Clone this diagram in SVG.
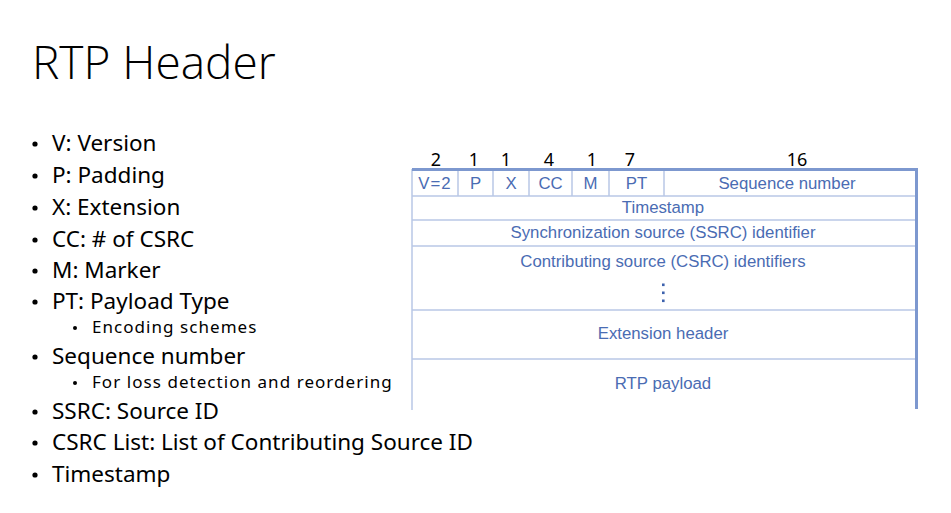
<svg xmlns="http://www.w3.org/2000/svg" width="951" height="513" viewBox="0 0 951 513">
  <style>
    .title { font-family: "Open Sans", "Noto Sans", "Liberation Sans", sans-serif; font-weight: 300; font-size: 46px; fill: #000; }
    .item { font-family: "Noto Sans", "Open Sans", "Liberation Sans", sans-serif; font-size: 22.5px; fill: #000; }
    .sub { font-family: "Noto Sans", "Open Sans", "Liberation Sans", sans-serif; font-size: 17px; fill: #000; letter-spacing: 1.05px; }
    .bits { font-family: "Noto Sans", "Liberation Sans", sans-serif; font-size: 18px; fill: #000; text-anchor: middle; }
    .field { font-family: "Liberation Sans", Arial, sans-serif; font-size: 16.8px; fill: #4a6cb3; text-anchor: middle; }
    .thin { stroke: #b9c7e6; stroke-width: 1.5; fill: none; }
    .thick { stroke: #7d98cf; stroke-width: 3; fill: none; }
    .dot { fill: #000; }
    .vdot { fill: #3d62ad; }
  </style>

  <!-- Slide title -->
  <text class="title" x="32" y="79">RTP Header</text>

  <!-- Bullet list of header fields -->
  <g id="field-list">
    <circle class="dot" cx="35" cy="144" r="2.6"/><text class="item" x="52" y="151">V: Version</text>
    <circle class="dot" cx="35" cy="176" r="2.6"/><text class="item" x="52" y="183">P: Padding</text>
    <circle class="dot" cx="35" cy="208" r="2.6"/><text class="item" x="52" y="215">X: Extension</text>
    <circle class="dot" cx="35" cy="240" r="2.6"/><text class="item" x="52" y="247">CC: # of CSRC</text>
    <circle class="dot" cx="35" cy="271" r="2.6"/><text class="item" x="52" y="278">M: Marker</text>
    <circle class="dot" cx="35" cy="302" r="2.6"/><text class="item" x="52" y="309">PT: Payload Type</text>
    <circle class="dot" cx="75" cy="328" r="2"/><text class="sub" x="92" y="333">Encoding schemes</text>
    <circle class="dot" cx="35" cy="357" r="2.6"/><text class="item" x="52" y="364">Sequence number</text>
    <circle class="dot" cx="75" cy="383" r="2"/><text class="sub" x="92" y="388">For loss detection and reordering</text>
    <circle class="dot" cx="35" cy="412" r="2.6"/><text class="item" x="52" y="419">SSRC: Source ID</text>
    <circle class="dot" cx="35" cy="443" r="2.6"/><text class="item" x="52" y="450">CSRC List: List of Contributing Source ID</text>
    <circle class="dot" cx="35" cy="475" r="2.6"/><text class="item" x="52" y="482">Timestamp</text>
  </g>

  <!-- Bit widths above the first header word -->
  <g id="bit-widths">
    <text class="bits" x="436" y="166">2</text>
    <text class="bits" x="474" y="166">1</text>
    <text class="bits" x="506" y="166">1</text>
    <text class="bits" x="549" y="166">4</text>
    <text class="bits" x="592" y="166">1</text>
    <text class="bits" x="630" y="166">7</text>
    <text class="bits" x="797" y="166">16</text>
  </g>

  <!-- Packet layout table -->
  <g id="header-table">
    <!-- inner rules -->
    <line class="thin" x1="412" y1="169" x2="412" y2="410"/>
    <line class="thin" x1="412" y1="196" x2="916" y2="196"/>
    <line class="thin" x1="412" y1="220" x2="916" y2="220"/>
    <line class="thin" x1="412" y1="246" x2="916" y2="246"/>
    <line class="thin" x1="412" y1="310" x2="916" y2="310"/>
    <line class="thin" x1="412" y1="359" x2="916" y2="359"/>
    <line class="thin" x1="458" y1="170" x2="458" y2="196"/>
    <line class="thin" x1="493" y1="170" x2="493" y2="196"/>
    <line class="thin" x1="529" y1="170" x2="529" y2="196"/>
    <line class="thin" x1="572" y1="170" x2="572" y2="196"/>
    <line class="thin" x1="609" y1="170" x2="609" y2="196"/>
    <line class="thin" x1="664" y1="170" x2="664" y2="196"/>
    <!-- heavy top and right edges -->
    <path class="thick" d="M412 169.5 H916.5 V409"/>
  </g>

  <g id="row-fixed">
    <text class="field" x="435" y="189" letter-spacing="1">V=2</text>
    <text class="field" x="475.5" y="189">P</text>
    <text class="field" x="511" y="189">X</text>
    <text class="field" x="550.5" y="189">CC</text>
    <text class="field" x="590.5" y="189">M</text>
    <text class="field" x="636.5" y="189">PT</text>
    <text class="field" x="787" y="189">Sequence number</text>
  </g>
  <g id="row-timestamp"><text class="field" x="663" y="212.5">Timestamp</text></g>
  <g id="row-ssrc"><text class="field" x="663" y="238">Synchronization source (SSRC) identifier</text></g>
  <g id="row-csrc">
    <text class="field" x="663" y="267">Contributing source (CSRC) identifiers</text>
    <rect class="vdot" x="662" y="283.5" width="2.6" height="2.6"/>
    <rect class="vdot" x="662" y="291.5" width="2.6" height="2.6"/>
    <rect class="vdot" x="662" y="299.5" width="2.6" height="2.6"/>
  </g>
  <g id="row-extension"><text class="field" x="663" y="339">Extension header</text></g>
  <g id="row-payload"><text class="field" x="663" y="388.5">RTP payload</text></g>
</svg>
